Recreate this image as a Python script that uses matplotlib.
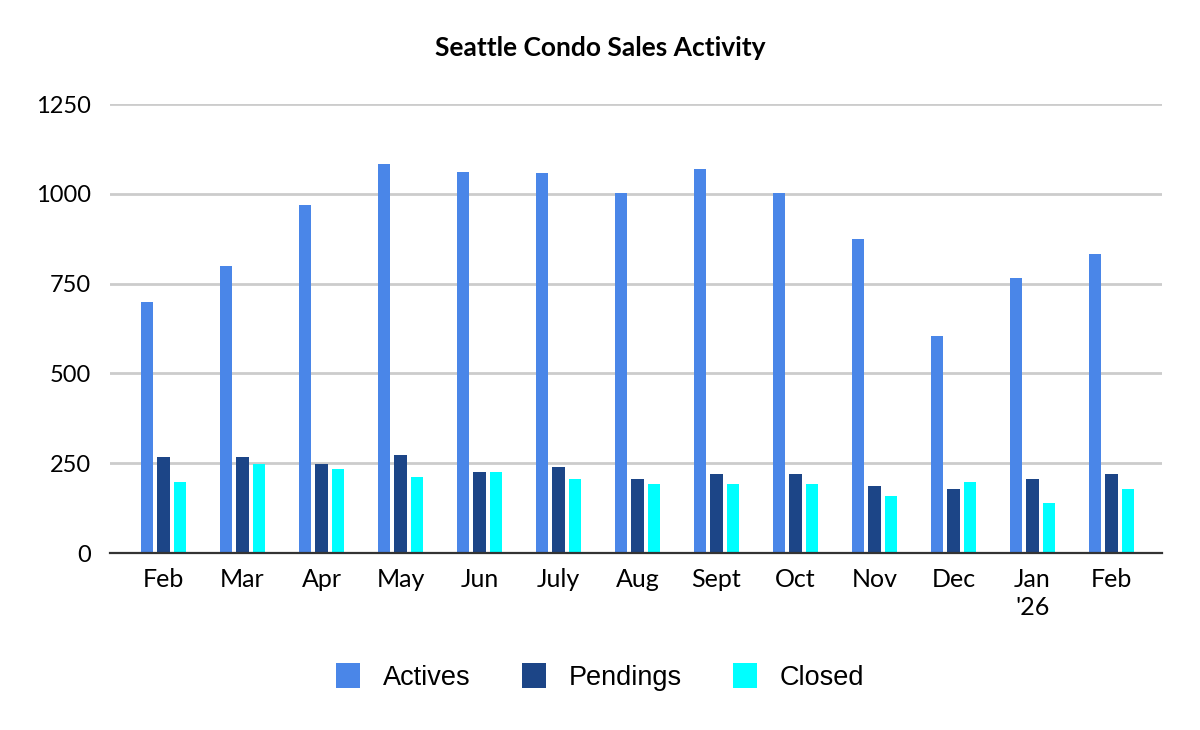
import matplotlib.pyplot as plt
import numpy as np

months = ["Feb", "Mar", "Apr", "May", "Jun", "July", "Aug", "Sept", "Oct",
          "Nov", "Dec", "Jan\n'26", "Feb"]
actives = [698, 800, 968, 1083, 1062, 1057, 1002, 1069, 1002, 874, 603, 765, 832]
pendings = [266, 266, 248, 274, 226, 240, 206, 220, 220, 186, 178, 206, 220]
closed = [199, 248, 234, 212, 226, 206, 192, 192, 192, 158, 199, 138, 178]
yticks = [0, 250, 500, 750, 1000, 1250]

c_act = "#4a86e8"
c_pen = "#1c4587"
c_clo = "#00ffff"

fig = plt.figure(figsize=(12, 7.3), dpi=100)
ax = fig.add_axes([110 / 1200, 1 - 553 / 730, 1052 / 1200, 449 / 730])

x = np.arange(len(months))
off = 0.209
w = 0.155
ax.bar(x - off, actives, w, color=c_act, label="Actives", zorder=3)
ax.bar(x, pendings, w, color=c_pen, label="Pendings", zorder=3)
ax.bar(x + off, closed, w, color=c_clo, label="Closed", zorder=3)

ax.set_ylim(0, 1250)
ax.set_xlim(-0.677, 12.64)
ax.set_yticks(yticks)
ax.set_xticks(x)
ax.set_xticklabels(months, fontfamily="Lato", fontsize=18, linespacing=1.25)
for lab in ax.get_yticklabels():
    lab.set_fontfamily("Lato")
    lab.set_fontsize(17)
ax.tick_params(axis="both", length=0)
ax.tick_params(axis="y", pad=14)
ax.tick_params(axis="x", pad=11)

ax.yaxis.grid(True, color="#cccccc", linewidth=2, zorder=0)
ax.set_axisbelow(True)
for s in ["top", "right", "left"]:
    ax.spines[s].set_visible(False)
ax.spines["bottom"].set_color("#333333")
ax.spines["bottom"].set_linewidth(1.6)
ax.spines["bottom"].set_zorder(4)

fig.text(0.5, 1 - 48 / 730, "Seattle Condo Sales Activity", ha="center", va="center",
         fontfamily="Lato", fontweight="bold", fontsize=19)

fig.legend(loc="center", bbox_to_anchor=(0.5, 1 - 677 / 730), ncol=3, frameon=False,
           prop={"family": "Liberation Sans", "size": 19.5},
           handlelength=0.9, handleheight=1.05, handletextpad=0.83, columnspacing=1.9)

fig.savefig("out.png", dpi=100)
